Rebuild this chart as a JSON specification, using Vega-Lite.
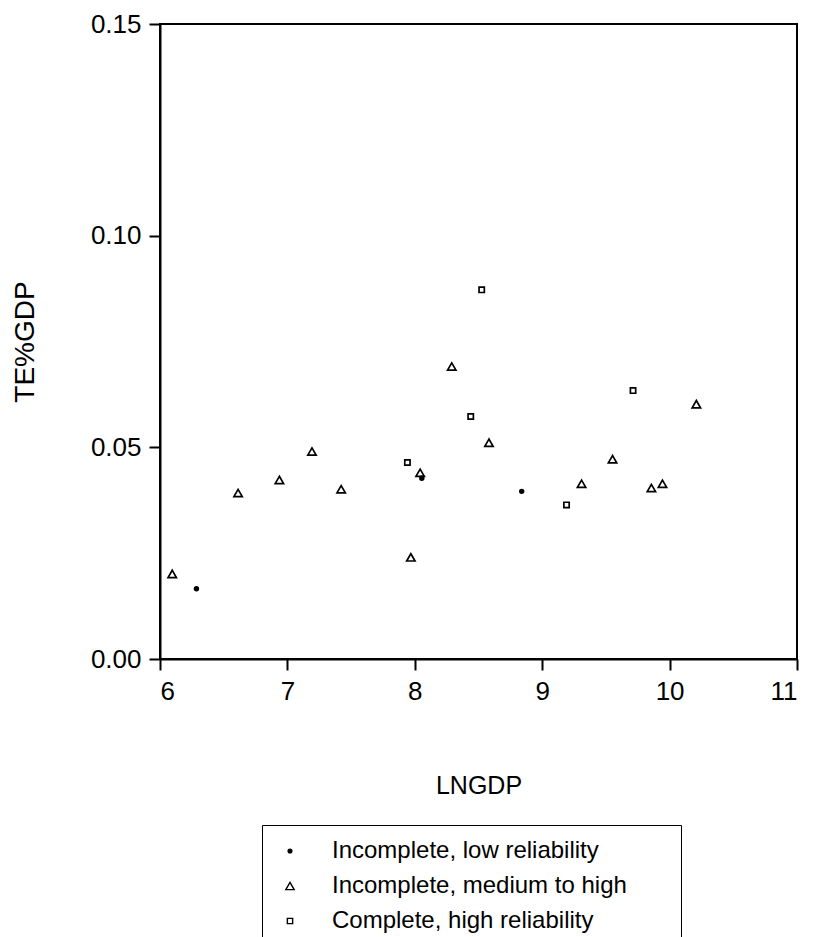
{
  "$schema": "https://vega.github.io/schema/vega-lite/v6.json",
  "width": 637,
  "height": 635,
  "autosize": "none",
  "padding": {"left": 160, "top": 24, "right": 16, "bottom": 278},
  "background": "white",
  "config": {
    "font": "Liberation Sans",
    "view": {"stroke": "black", "strokeWidth": 2},
    "axis": {
      "grid": false,
      "domainColor": "black",
      "domainWidth": 2,
      "tickColor": "black",
      "tickWidth": 2,
      "tickSize": 11,
      "labelFont": "Liberation Sans",
      "labelFontSize": 26,
      "labelColor": "black",
      "titleFont": "Liberation Sans",
      "titleFontSize": 25,
      "titleFontWeight": "normal",
      "titleColor": "black"
    }
  },
  "data": {
    "values": [
      {"LNGDP": 6.096, "TEGDP": 0.0201, "Category": "Incomplete, medium to high"},
      {"LNGDP": 6.613, "TEGDP": 0.0392, "Category": "Incomplete, medium to high"},
      {"LNGDP": 6.937, "TEGDP": 0.0423, "Category": "Incomplete, medium to high"},
      {"LNGDP": 7.193, "TEGDP": 0.0490, "Category": "Incomplete, medium to high"},
      {"LNGDP": 7.422, "TEGDP": 0.0401, "Category": "Incomplete, medium to high"},
      {"LNGDP": 7.969, "TEGDP": 0.0240, "Category": "Incomplete, medium to high"},
      {"LNGDP": 8.042, "TEGDP": 0.0440, "Category": "Incomplete, medium to high"},
      {"LNGDP": 8.290, "TEGDP": 0.0691, "Category": "Incomplete, medium to high"},
      {"LNGDP": 8.582, "TEGDP": 0.0511, "Category": "Incomplete, medium to high"},
      {"LNGDP": 9.309, "TEGDP": 0.0414, "Category": "Incomplete, medium to high"},
      {"LNGDP": 9.552, "TEGDP": 0.0472, "Category": "Incomplete, medium to high"},
      {"LNGDP": 9.857, "TEGDP": 0.0404, "Category": "Incomplete, medium to high"},
      {"LNGDP": 9.944, "TEGDP": 0.0414, "Category": "Incomplete, medium to high"},
      {"LNGDP": 10.210, "TEGDP": 0.0602, "Category": "Incomplete, medium to high"},
      {"LNGDP": 6.286, "TEGDP": 0.0166, "Category": "Incomplete, low reliability"},
      {"LNGDP": 8.055, "TEGDP": 0.0427, "Category": "Incomplete, low reliability"},
      {"LNGDP": 8.839, "TEGDP": 0.0396, "Category": "Incomplete, low reliability"},
      {"LNGDP": 7.942, "TEGDP": 0.0464, "Category": "Complete, high reliability"},
      {"LNGDP": 8.439, "TEGDP": 0.0573, "Category": "Complete, high reliability"},
      {"LNGDP": 8.525, "TEGDP": 0.0872, "Category": "Complete, high reliability"},
      {"LNGDP": 9.191, "TEGDP": 0.0364, "Category": "Complete, high reliability"},
      {"LNGDP": 9.713, "TEGDP": 0.0634, "Category": "Complete, high reliability"}
    ]
  },
  "mark": {"type": "point", "filled": true, "stroke": "black", "strokeWidth": 1.7, "opacity": 1},
  "encoding": {
    "x": {
      "field": "LNGDP", "type": "quantitative",
      "scale": {"domain": [6, 11], "zero": false, "nice": false},
      "axis": {"values": [6, 7, 8, 9, 10, 11], "title": "LNGDP", "labelPadding": 8, "titlePadding": 69}
    },
    "y": {
      "field": "TEGDP", "type": "quantitative",
      "scale": {"domain": [0, 0.15], "nice": false},
      "axis": {"values": [0, 0.05, 0.1, 0.15], "format": ".2f", "title": "TE%GDP", "titleFontSize": 28, "labelPadding": 8, "titlePadding": 51}
    },
    "shape": {
      "field": "Category", "type": "nominal",
      "scale": {"domain": ["Incomplete, low reliability", "Incomplete, medium to high", "Complete, high reliability"], "range": ["circle", "triangle-up", "square"]},
      "legend": {
        "title": null,
        "orient": "none",
        "legendX": 102,
        "legendY": 801,
        "direction": "vertical",
        "padding": 14,
        "strokeColor": "black",
        "fillColor": "white",
        "labelFont": "Liberation Sans",
        "labelFontSize": 24,
        "labelColor": "black",
        "labelLimit": 600,
        "rowPadding": 11,
        "symbolOffset": 2,
        "labelOffset": 30,
        "symbolStrokeWidth": 1.4,
        "symbolStrokeColor": "black",
        "labelExpr": "datum.label + '\u00a0\u00a0\u00a0\u00a0\u00a0\u00a0\u200b'",
        "encode": {"legend": {"update": {"strokeWidth": {"value": 2}}}}
      }
    },
    "size": {
      "field": "Category", "type": "nominal",
      "scale": {"type": "ordinal", "domain": ["Incomplete, low reliability", "Incomplete, medium to high", "Complete, high reliability"], "range": [14, 70, 28]}
    },
    "fill": {
      "field": "Category", "type": "nominal",
      "scale": {"domain": ["Incomplete, low reliability", "Incomplete, medium to high", "Complete, high reliability"], "range": ["black", "white", "white"]}
    }
  }
}
